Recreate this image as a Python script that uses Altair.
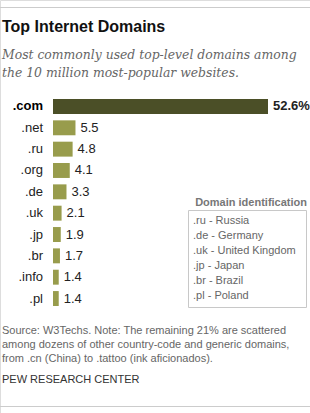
import altair as alt
import pandas as pd

domains = [".com", ".net", ".ru", ".org", ".de", ".uk", ".jp", ".br", ".info", ".pl"]
shares = [52.6, 5.5, 4.8, 4.1, 3.3, 2.1, 1.9, 1.7, 1.4, 1.4]
value_labels = ["52.6%", "5.5", "4.8", "4.1", "3.3", "2.1", "1.9", "1.7", "1.4", "1.4"]

title_text = "Top Internet Domains"
subtitle_lines = ["Most commonly used top-level domains among",
                  "the 10 million most-popular websites."]
legend_title = "Domain identification"
legend_items = [".ru - Russia", ".de - Germany", ".uk - United Kingdom",
                ".jp - Japan", ".br - Brazil", ".pl - Poland"]
footer_lines = ["Source: W3Techs. Note: The remaining 21% are scattered",
                "among dozens of other country-code and generic domains,",
                "from .cn (China) to .tattoo (ink aficionados)."]
credit = "PEW RESEARCH CENTER"

df = pd.DataFrame({"domain": domains, "share": shares, "label": value_labels})
df["top"] = df["domain"] == ".com"

FONT = "Liberation Sans"

xs = alt.Scale(domain=[0, 52.6], range=[53, 268])
ys = alt.Scale(domain=domains, range=[99, 306], paddingInner=0.3, paddingOuter=0)

base = alt.Chart(df)

bars = base.mark_bar().encode(
    x=alt.X("share:Q", scale=xs, axis=None),
    y=alt.Y("domain:N", scale=ys, axis=None, sort=domains),
    color=alt.Color("top:N", scale=alt.Scale(domain=[True, False], range=["#4b4f27", "#989c4c"]), legend=None),
)

vals_top = base.transform_filter("datum.top").mark_text(
    align="left", baseline="middle", dx=5, font=FONT, fontSize=13, fontWeight="bold", color="#222"
).encode(x=alt.X("share:Q", scale=xs), y=alt.Y("domain:N", scale=ys, sort=domains), text="label:N")

vals_rest = base.transform_filter("!datum.top").mark_text(
    align="left", baseline="middle", dx=5, font=FONT, fontSize=13, color="#222"
).encode(x=alt.X("share:Q", scale=xs), y=alt.Y("domain:N", scale=ys, sort=domains), text="label:N")

cat_top = base.transform_filter("datum.top").mark_text(
    align="right", baseline="middle", font=FONT, fontSize=13, fontWeight="bold", color="#000"
).encode(x=alt.value(43), y=alt.Y("domain:N", scale=ys, sort=domains), text="domain:N")

cat_rest = base.transform_filter("!datum.top").mark_text(
    align="right", baseline="middle", font=FONT, fontSize=13, color="#222"
).encode(x=alt.value(43), y=alt.Y("domain:N", scale=ys, sort=domains), text="domain:N")

one = alt.Chart(pd.DataFrame({"a": [0]}))

top_rule = one.mark_rule(color="#cccccc", strokeWidth=1).encode(
    x=alt.value(0), x2=alt.value(310), y=alt.value(7.5))
bottom_rule = one.mark_rule(color="#cccccc", strokeWidth=1).encode(
    x=alt.value(0), x2=alt.value(310), y=alt.value(406.5))

title = one.mark_text(align="left", baseline="alphabetic", font=FONT, fontSize=16,
                      fontWeight="bold", color="#111").encode(
    x=alt.value(2), y=alt.value(32), text=alt.value(title_text))

subtitle = one.mark_text(align="left", baseline="alphabetic", font="DejaVu Serif", fontSize=12.4,
                         fontStyle="italic", color="#666", lineHeight=17.5).encode(
    x=alt.value(2), y=alt.value(59), text=alt.value(subtitle_lines))

legend_box = one.mark_rect(fill="white", stroke="#c8c8c8", strokeWidth=1).encode(
    x=alt.value(188.5), x2=alt.value(306.5), y=alt.value(210.5), y2=alt.value(307.5))

legend_t = one.mark_text(align="right", baseline="alphabetic", font=FONT, fontSize=11,
                         fontWeight="bold", color="#777").encode(
    x=alt.value(307), y=alt.value(206), text=alt.value(legend_title))

legend_txt = one.mark_text(align="left", baseline="alphabetic", font=FONT, fontSize=11,
                           color="#666", lineHeight=15).encode(
    x=alt.value(193), y=alt.value(224), text=alt.value(legend_items))

footer = one.mark_text(align="left", baseline="alphabetic", font=FONT, fontSize=11,
                       color="#666", lineHeight=14.2).encode(
    x=alt.value(2), y=alt.value(334), text=alt.value(footer_lines))

credit_t = one.mark_text(align="left", baseline="alphabetic", font=FONT, fontSize=11,
                         color="#333").encode(
    x=alt.value(2), y=alt.value(383), text=alt.value(credit))

chart = alt.layer(
    top_rule, bottom_rule, title, subtitle, bars, vals_top, vals_rest, cat_top, cat_rest,
    legend_box, legend_t, legend_txt, footer, credit_t
).properties(
    width=310, height=413, padding=0, autosize=alt.AutoSizeParams(type="none")
).configure_view(stroke=None).configure(background="white")

chart.save("out.html", embed_options={"renderer": "svg", "actions": False})
